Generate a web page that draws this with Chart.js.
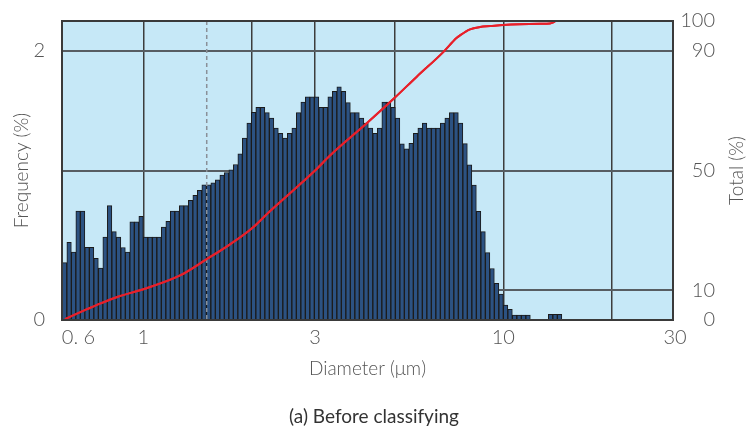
<!DOCTYPE html>
<html lang="en">
<head>
<meta charset="UTF-8" />
<title>Particle size distribution</title>
<script src="https://cdn.jsdelivr.net/npm/chart.js"></script>
<style>
  html, body { margin: 0; padding: 0; background: #fff; }
  #wrap { width: 748px; height: 430px; }
</style>
</head>
<body>
<div id="wrap"><canvas id="psd" width="748" height="430"></canvas></div>
<script>
  // --- Data ---

  // bin centres (um), 80 bins per decade
  const diameters = [
    0.6043, 0.6220, 0.6401, 0.6588, 0.6781, 0.6979, 0.7182, 0.7392, 0.7608, 0.7830,
    0.8059, 0.8294, 0.8536, 0.8785, 0.9042, 0.9306, 0.9578, 0.9857, 1.0145, 1.0441,
    1.0746, 1.1060, 1.1383, 1.1715, 1.2057, 1.2409, 1.2772, 1.3145, 1.3529, 1.3924,
    1.4330, 1.4749, 1.5179, 1.5623, 1.6079, 1.6548, 1.7032, 1.7529, 1.8041, 1.8568,
    1.9110, 1.9668, 2.0242, 2.0833, 2.1442, 2.2068, 2.2712, 2.3375, 2.4058, 2.4760,
    2.5483, 2.6228, 2.6993, 2.7782, 2.8593, 2.9428, 3.0287, 3.1172, 3.2082, 3.3019,
    3.3983, 3.4975, 3.5997, 3.7048, 3.8129, 3.9243, 4.0389, 4.1568, 4.2782, 4.4031,
    4.5317, 4.6640, 4.8002, 4.9404, 5.0847, 5.2331, 5.3860, 5.5432, 5.7051, 5.8717,
    6.0431, 6.2196, 6.4012, 6.5881, 6.7805, 6.9785, 7.1823, 7.3920, 7.6079, 7.8300,
    8.0587, 8.2940, 8.5362, 8.7855, 9.0420, 9.3060, 9.5778, 9.8574, 10.145, 10.441,
    10.746, 11.060, 11.383, 11.715, 12.057, 12.409, 12.772, 13.145, 13.529, 13.924,
    14.330
  ];

  // frequency per bin (%)
  const frequency = [
    0.426, 0.578, 0.504, 0.810, 0.810, 0.541, 0.541, 0.459, 0.385, 0.617,
    0.850, 0.657, 0.617, 0.539, 0.504, 0.730, 0.730, 0.770, 0.617, 0.617,
    0.617, 0.617, 0.691, 0.733, 0.810, 0.810, 0.850, 0.850, 0.889, 0.926,
    0.963, 1.004, 1.004, 1.019, 1.041, 1.078, 1.096, 1.116, 1.156, 1.235,
    1.352, 1.464, 1.543, 1.580, 1.580, 1.541, 1.501, 1.427, 1.387, 1.352,
    1.387, 1.427, 1.541, 1.620, 1.659, 1.659, 1.659, 1.580, 1.580, 1.659,
    1.699, 1.733, 1.699, 1.615, 1.541, 1.541, 1.501, 1.464, 1.427, 1.387,
    1.427, 1.620, 1.620, 1.580, 1.501, 1.309, 1.272, 1.313, 1.387, 1.427,
    1.464, 1.427, 1.427, 1.427, 1.464, 1.501, 1.541, 1.541, 1.464, 1.311,
    1.154, 1.002, 0.807, 0.657, 0.501, 0.383, 0.272, 0.193, 0.111, 0.079,
    0.037, 0.037, 0.037, 0.037, 0, 0, 0, 0, 0.042, 0.042,
    0.042
  ];

  // cumulative curve (%)
  const totalDiameters = [0.606, 0.70, 0.758, 0.85, 1.0, 1.265, 1.493, 1.741, 2.0, 2.247,
    3.0, 3.3, 4.174, 5.0, 5.74, 6.81, 7.41, 7.58, 8.08, 8.62, 9.19, 10.0, 12.65, 13.48, 13.92];
  const totalPercent = [0.3, 3.7, 5.5, 7.8, 10.3, 14.9, 20.2, 25.3, 30.6, 36.4,
    50, 55, 65.8, 74.4, 81.3, 89.6, 94.3, 95.2, 97.2, 98.0, 98.3, 98.7, 99.1, 99.2, 99.8];

  const xTicks = [0.6, 1, 2, 3, 5, 10, 20, 30];
  const xGridValues = [1, 2, 3, 5, 10, 20];
  const xTickLabels = { 0.6: '0. 6', 1: '1', 3: '3', 10: '10', 30: '30' };
  const freqTicks = [0, 2];
  const totalTicks = [0, 10, 50, 90, 100];
  const totalGridValues = [10, 50, 90];
  const markerDiameter = 1.5;
  const caption = '(a) Before classifying';

  // --- Styling ---

  const FONT = "Lato, 'Open Sans', sans-serif";
  const TEXT = '#555';
  Chart.defaults.font.family = FONT;
  Chart.defaults.font.weight = 300;

  const framePlugin = {
    id: 'frame',
    beforeDraw(chart) {
      const { ctx, chartArea: a } = chart;
      ctx.save();
      ctx.fillStyle = '#c6e8f7';
      ctx.fillRect(a.left, a.top, a.width, a.height);
      ctx.restore();
    },
    afterDraw(chart) {
      const { ctx, chartArea: a, scales } = chart;
      // dashed marker
      const mx = scales.x.getPixelForValue(markerDiameter);
      ctx.save();
      ctx.setLineDash([4, 3]);
      ctx.strokeStyle = '#8a9098';
      ctx.lineWidth = 1.5;
      ctx.beginPath();
      ctx.moveTo(mx, a.top);
      ctx.lineTo(mx, a.bottom);
      ctx.stroke();
      ctx.restore();

      // put the cumulative line back above the grid
      ctx.save();
      ctx.beginPath();
      ctx.rect(a.left, a.top - 2, a.width, a.height + 2);
      ctx.clip();
      chart.getDatasetMeta(1).controller.draw();
      ctx.restore();

      // plot frame
      ctx.save();
      ctx.strokeStyle = '#3a3a3a';
      ctx.lineWidth = 2;
      ctx.strokeRect(a.left, a.top, a.width, a.height);
      ctx.restore();

      ctx.save();
      ctx.textAlign = 'center';
      ctx.textBaseline = 'middle';
      // caption under the axis title
      ctx.font = '400 19px ' + FONT;
      ctx.fillStyle = '#333';
      ctx.fillText(caption, 374, 417);
      // right axis title reads bottom-to-top
      ctx.font = '300 19px ' + FONT;
      ctx.fillStyle = TEXT;
      ctx.translate(737, (a.top + a.bottom) / 2);
      ctx.rotate(-Math.PI / 2);
      ctx.fillText('Total (%)', 0, 0);
      ctx.restore();
    }
  };

  new Chart(document.getElementById('psd'), {
    type: 'bar',
    data: {
      datasets: [
        {
          type: 'bar',
          data: diameters.map((d, i) => ({ x: d, y: frequency[i] })),
          yAxisID: 'y',
          backgroundColor: '#2c5282',
          borderColor: '#1b1b1b',
          borderWidth: 1,
          barPercentage: 1,
          categoryPercentage: 1,
          order: 2
        },
        {
          type: 'line',
          data: totalDiameters.map((d, i) => ({ x: d, y: totalPercent[i] })),
          yAxisID: 'y2',
          borderColor: '#e8202a',
          borderWidth: 2,
          pointRadius: 0,
          cubicInterpolationMode: 'monotone',
          order: 1
        }
      ]
    },
    options: {
      responsive: false,
      animation: false,
      // right padding leaves room for the hand-drawn "Total (%)"
      layout: { padding: { top: 20, left: 0, right: 33, bottom: 45 } },
      plugins: {
        legend: { display: false },
        tooltip: { enabled: false }
      },
      scales: {
        x: {
          type: 'logarithmic',
          min: 0.5944,
          max: 29.6,
          offset: false,
          z: 1,
          afterBuildTicks: s => { s.ticks = xTicks.map(v => ({ value: v })); },
          afterFit: s => { s.height = 65; },
          grid: {
            offset: false,
            drawTicks: false,
            lineWidth: 1.5,
            color: c => (c.tick && xGridValues.includes(c.tick.value)) ? '#3d3d3d' : 'rgba(0,0,0,0)'
          },
          border: { display: false },
          ticks: {
            autoSkip: false,
            maxRotation: 0,
            padding: 6,
            color: TEXT,
            font: { size: 20 },
            // leading em spaces nudge "0. 6" off the corner like the original
            callback: v => v === 0.6 ? '\u2003\u2003' + xTickLabels[v] : (xTickLabels[v] || '')
          },
          title: {
            display: true,
            text: 'Diameter (μm)',
            color: TEXT,
            font: { size: 19 },
            padding: { top: 0, bottom: 5 }
          }
        },
        y: {
          position: 'left',
          min: 0,
          max: 2 * 100 / 90,
          afterBuildTicks: s => { s.ticks = freqTicks.map(v => ({ value: v })); },
          afterFit: s => { s.width = 62; },
          grid: { display: false },
          border: { display: false },
          ticks: { padding: 9, color: TEXT, font: { size: 20 }, callback: v => String(v) },
          title: {
            display: true,
            text: 'Frequency (%)',
            color: TEXT,
            font: { size: 19 },
            padding: { top: 10, bottom: 0 }
          }
        },
        y2: {
          position: 'right',
          min: 0,
          max: 100,
          z: 1,
          afterBuildTicks: s => { s.ticks = totalTicks.map(v => ({ value: v })); },
          afterFit: s => { s.width = 42; },
          grid: {
            drawTicks: false,
            lineWidth: 2,
            color: c => (c.tick && totalGridValues.includes(c.tick.value)) ? '#575d62' : 'rgba(0,0,0,0)'
          },
          border: { display: false },
          ticks: { padding: 6, crossAlign: 'far', color: TEXT, font: { size: 20 }, callback: v => String(v) }
        }
      }
    },
    plugins: [framePlugin]
  });
</script>
</body>
</html>
